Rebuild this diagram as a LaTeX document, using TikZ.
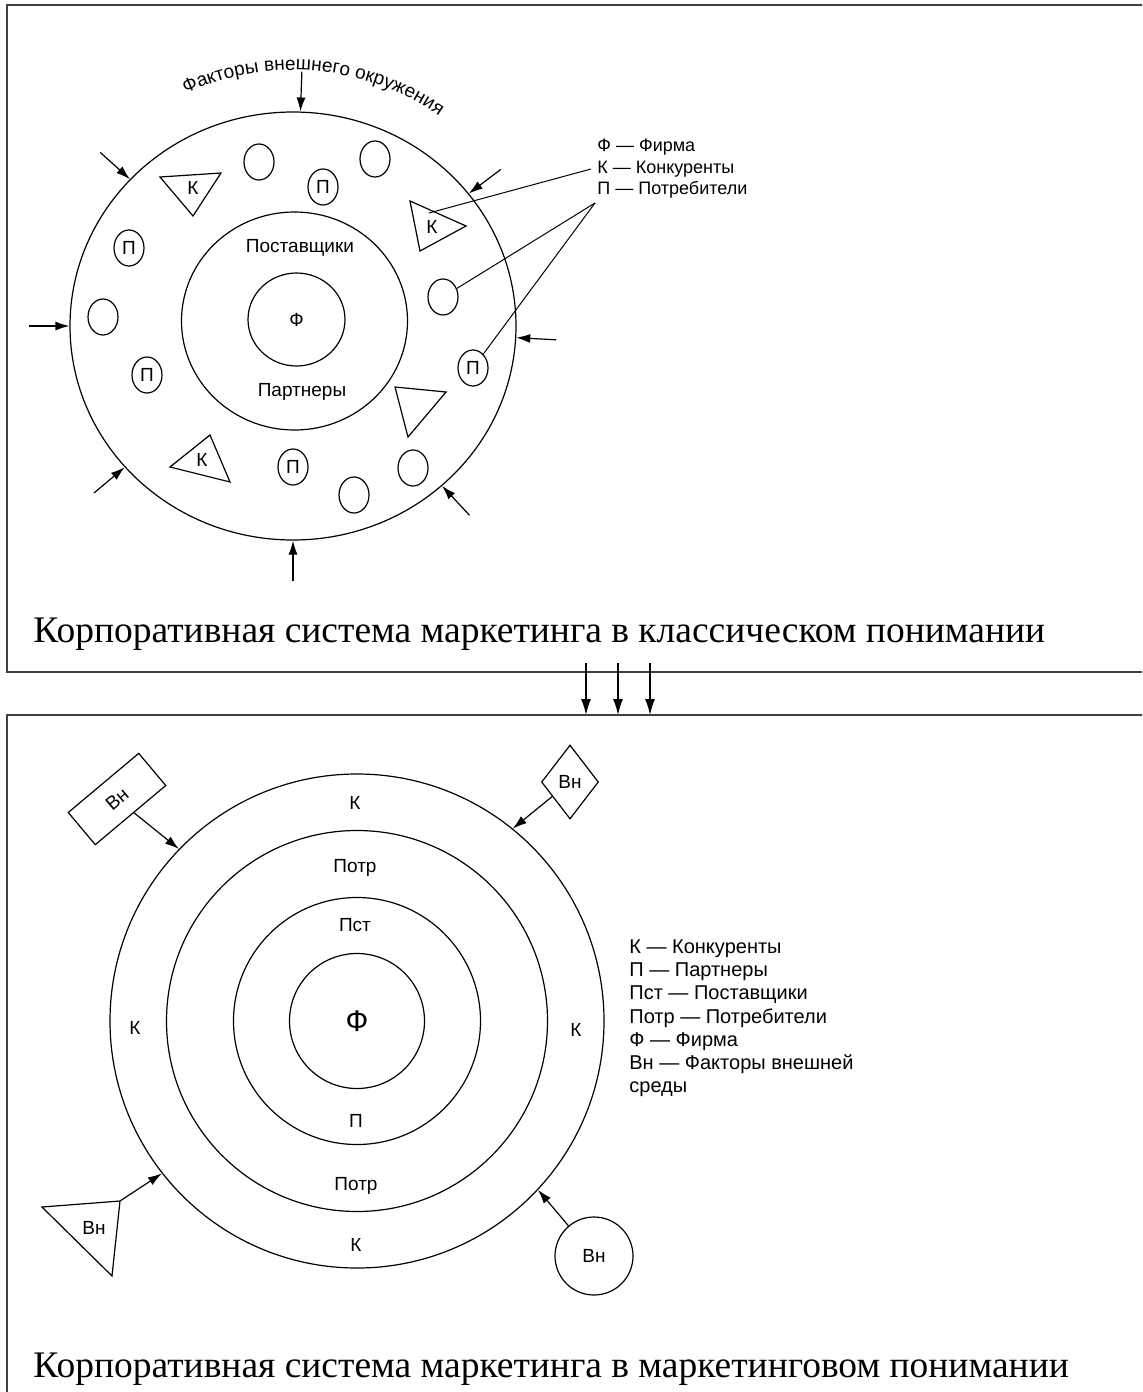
\documentclass[tikz,border=0pt]{standalone}
\usepackage{fontspec}
\setmainfont{Liberation Serif}
\setsansfont{Liberation Sans}
\usetikzlibrary{shapes.geometric,arrows.meta,decorations.text}

\newcommand{\lblfont}{\sffamily\fontsize{9.5}{11}\selectfont}

\tikzset{
  ring/.style={draw, ellipse, inner sep=0pt, line width=0.6pt},
  disc/.style={draw, circle, inner sep=0pt, line width=0.6pt},
  oval/.style={draw, ellipse, minimum width=15pt, minimum height=18pt, inner sep=0pt, line width=0.6pt, font=\lblfont},
  lbl/.style={font=\lblfont},
  legend/.style={align=left, anchor=north west, inner sep=0pt},
  inarrow/.style={-{Latex[length=7pt,width=4.5pt]}, line width=0.6pt},
  caption/.style={font=\fontsize{18.75}{22}\selectfont, anchor=base west, inner sep=0pt},
  frame/.style={line width=1pt, black!75},
}

\begin{document}
\begin{tikzpicture}[x=0.5pt, y=-0.5pt]
\useasboundingbox (0,0) rectangle (1142,1392);

\def\cx{293};
\def\cy{326};

\draw[frame] (1142,5) -- (7,5) -- (7,672) -- (1142,672);
\draw[frame] (1142,715) -- (7,715) -- (7,1392);

% classical view
\node[ring, minimum width=223pt, minimum height=214pt] (env) at (\cx,\cy) {};
\node[ring, minimum width=113pt, minimum height=109pt] (sup) at (294.5,321) {};
\node[ring, minimum width=48.5pt, minimum height=46.5pt, lbl] (firm) at (296.5,319.5) {Ф};
\node[lbl] (supl) at (300,248) {Поставщики};
\node[lbl] (part) at (302,392) {Партнеры};

\path[decorate, decoration={text along path, text align=center,
  text={|\lblfont|Факторы внешнего окружения}}]
  (\cx,\cy) ++(-126:256) arc[start angle=-126, end angle=-44, radius=256];

\node[oval] (o1) at (259,162) {};
\node[oval] (o2) at (375,159) {};
\node[oval] (o3) at (103,317) {};
\node[oval] (o4) at (354,495) {};
\node[oval] (o5) at (413,468) {};
\node[oval] (o6) at (443,297) {};
\node[oval] (p1) at (323,187) {П};
\node[oval] (p2) at (129,248) {П};
\node[oval] (p3) at (147,375) {П};
\node[oval] (p4) at (293,467) {П};
\node[oval] (p5) at (473,368) {П};

\draw[line width=0.6pt] (160,177) -- (221,173) -- (193,216) -- cycle;
\node[lbl] (k1) at (193,188) {К};
\draw[line width=0.6pt] (410,201) -- (466,226) -- (420,251) -- cycle;
\node[lbl] (k2) at (432,227) {К};
\draw[line width=0.6pt] (395,387) -- (446,392) -- (408,437) -- cycle;
\draw[line width=0.6pt] (170,467) -- (210,435) -- (230,482) -- cycle;
\node[lbl] (k3) at (202,460) {К};

\foreach \a/\n in {88/1,138/2,180/3,220/4,270/5,313/6,357/7,37/8} {
  \coordinate (t\n) at ([shift={(\a:20pt)}]env.\a);
  \draw[inarrow] (t\n) -- (env.\a);
}

\node[legend, font=\sffamily\fontsize{9}{10.75}\selectfont] (leg1) at (597,139)
  {Ф — Фирма\\К — Конкуренты\\П — Потребители};
\coordinate (kpt) at (591,169);
\coordinate (ppt) at (595,203);
\coordinate (kin) at (429,213);
\draw[line width=0.5pt] (kpt) -- (kin);
\draw[line width=0.5pt] (ppt) -- (o6);
\draw[line width=0.5pt] (ppt) -- (p5);

\node[caption] (cap1) at (33,642) {Корпоративная система маркетинга в классическом понимании};

% passage to the marketing view
\foreach \x in {586,618,650} {
  \coordinate (s\x) at (\x,663);
  \coordinate (e\x) at (\x,715);
  \draw[-{Latex[length=8pt,width=5pt]}, line width=0.7pt] (s\x) -- (e\x);
}

% marketing view
\node[disc, minimum size=247pt] (kon) at (357,1021) {};
\node[disc, minimum size=190.5pt] (potr) at (357,1021) {};
\node[disc, minimum size=123.5pt] (pst) at (357,1021) {};
\node[disc, minimum size=67.5pt, font=\sffamily\fontsize{15}{15}\selectfont] (fm) at (357,1021) {Ф};

\node[lbl] (kt) at (355,803) {К};
\node[lbl] (pt) at (355,868) {Потр};
\node[lbl] (st) at (355,925) {Пст};
\node[lbl] (pb) at (356,1121) {П};
\node[lbl] (pbb) at (356,1186) {Потр};
\node[lbl] (kb) at (356,1245) {К};
\node[lbl] (kl) at (135,1028) {К};
\node[lbl] (kr) at (576,1030) {К};

\node[draw, rectangle, rotate=40, minimum width=46pt, minimum height=21pt, line width=0.6pt, lbl] (vn1) at (117,799) {Вн};
\node[draw, diamond, minimum width=28.5pt, minimum height=37pt, inner sep=0pt, line width=0.6pt, lbl] (vn2) at (570,782) {Вн};
\draw[line width=0.6pt] (42,1207) coordinate (va) -- (120,1201) coordinate (vb) -- (112,1276) coordinate (vc) -- cycle;
\node[lbl] (vn3) at (94,1228) {Вн};
\node[disc, minimum size=39pt, lbl] (vn4) at (594,1256) {Вн};

\draw[inarrow] (vn1) -- (kon.136);
\draw[inarrow] (vn2) -- (kon.51);
\draw[inarrow] (vb) -- (kon.218);
\draw[inarrow] (vn4) -- (kon.317);

\node[legend, font=\sffamily\fontsize{10}{11.65}\selectfont] (leg2) at (629,939)
  {К — Конкуренты\\П — Партнеры\\Пст — Поставщики\\Потр — Потребители\\Ф — Фирма\\Вн — Факторы внешней\\среды};

\node[caption] (cap2) at (33,1377) {Корпоративная система маркетинга в маркетинговом понимании};

\end{tikzpicture}
\end{document}
